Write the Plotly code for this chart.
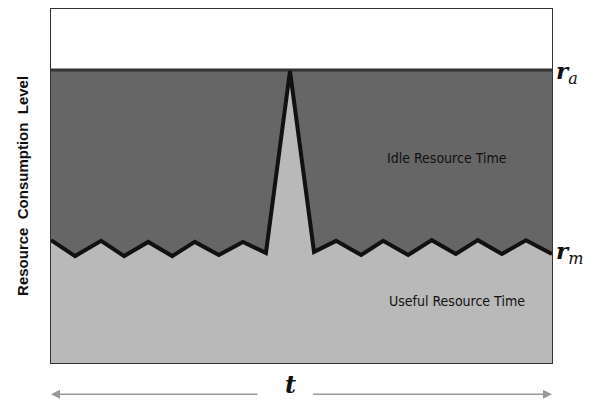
import plotly.graph_objects as go

# Time positions (0-100) and resource consumption level (0-100)
times = [0, 4.8, 10.0, 14.6, 19.4, 24.2, 28.7, 33.5, 38.3, 42.9, 47.7, 52.5,
         56.9, 61.9, 66.3, 71.3, 76.0, 80.8, 85.2, 90.0, 94.8, 100.0]
levels = [34.7, 30.2, 34.5, 30.2, 34.2, 30.2, 34.2, 30.5, 34.2, 31.1, 82.5, 31.4,
          34.5, 30.5, 34.5, 30.5, 34.7, 30.8, 34.7, 30.8, 34.7, 30.8]
r_a_level = 82.8
r_m_level = 31.5
alloc_times = [0, 100]
alloc_levels = [r_a_level, r_a_level]

LIGHT = "#b9b9b9"
DARK = "#666666"

fig = go.Figure()
fig.add_trace(go.Scatter(x=times, y=levels, mode="lines", line=dict(width=0),
                         fill="tozeroy", fillcolor=LIGHT, hoverinfo="skip"))
fig.add_trace(go.Scatter(x=alloc_times, y=alloc_levels, mode="lines", line=dict(width=0),
                         fill="tonexty", fillcolor=DARK, hoverinfo="skip"))
fig.add_trace(go.Scatter(x=alloc_times, y=alloc_levels, mode="lines",
                         line=dict(color="#333333", width=3), hoverinfo="skip"))
fig.add_trace(go.Scatter(x=times, y=levels, mode="lines",
                         line=dict(color="#111111", width=4), hoverinfo="skip"))

label_font = dict(family="Liberation Sans Narrow, Arial Narrow, DejaVu Sans Condensed, Roboto",
                  size=14, color="#111111")
serif = "DejaVu Serif, Liberation Serif, serif"

annotations = [
    dict(x=79, y=58, xref="x", yref="y", text="Idle Resource Time", showarrow=False,
         font=label_font),
    dict(x=81, y=17.5, xref="x", yref="y", text="Useful Resource Time", showarrow=False,
         font=label_font),
    dict(x=1.0, y=r_a_level, xref="paper", yref="y", xanchor="left", xshift=2, yshift=-3,
         text="<b><i>r</i></b><sub><i>a</i></sub>", showarrow=False,
         font=dict(family=serif, size=23, color="#111111")),
    dict(x=1.0, y=r_m_level, xref="paper", yref="y", xanchor="left", xshift=2, yshift=-1,
         text="<b><i>r</i></b><sub><i>m</i></sub>", showarrow=False,
         font=dict(family=serif, size=23, color="#111111")),
    dict(x=-0.058, y=0.5, xref="paper", yref="paper", xanchor="center", yanchor="middle",
         text="<b>Resource  Consumption  Level</b>",
         textangle=-90, showarrow=False,
         font=dict(family="Liberation Sans, Arial", size=15, color="#111111")),
    dict(x=47.8, y=-0.1073, xref="x", yref="paper", yanchor="bottom", text="<b><i>t</i></b>",
         showarrow=False, font=dict(family=serif, size=24, color="#111111")),
    dict(x=0, y=-0.088, xref="x", yref="paper", ax=41.5, ay=0, axref="x", ayref="pixel",
         showarrow=True, arrowhead=2, arrowsize=1.2, arrowwidth=1.5, arrowcolor="#999999", text=""),
    dict(x=100, y=-0.088, xref="x", yref="paper", ax=52, ay=0, axref="x", ayref="pixel",
         showarrow=True, arrowhead=2, arrowsize=1.2, arrowwidth=1.5, arrowcolor="#999999", text=""),
]

fig.update_layout(
    width=593, height=401,
    margin=dict(l=51, r=41, t=9, b=38),
    paper_bgcolor="white", plot_bgcolor="white",
    showlegend=False,
    annotations=annotations,
    xaxis=dict(range=[0, 100], showgrid=False, zeroline=False, showticklabels=False,
               ticks="", showline=True, mirror=True, linecolor="#333333", linewidth=1),
    yaxis=dict(range=[0, 100], showgrid=False, zeroline=False, showticklabels=False,
               ticks="", showline=True, mirror=True, linecolor="#333333", linewidth=1),
)

fig.write_html("out.html", config={"displayModeBar": False},
               post_script="document.body.style.margin='0';document.body.style.overflow='hidden';")
